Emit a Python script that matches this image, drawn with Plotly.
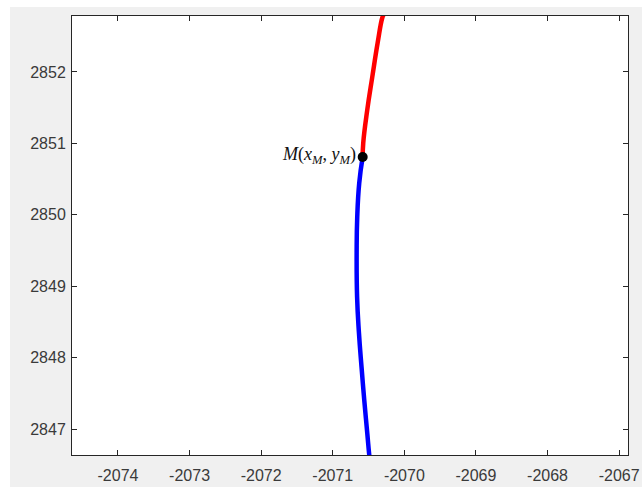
import plotly.graph_objects as go

# Curve above M (red) and below M (blue)
red_x = [-2070.582, -2070.574, -2070.518, -2070.448, -2070.373, -2070.309, -2070.29]
red_y = [2850.810, 2851.006, 2851.468, 2851.930, 2852.406, 2852.756, 2852.80]

blue_x = [-2070.582, -2070.630, -2070.658, -2070.666, -2070.660, -2070.634,
          -2070.598, -2070.560, -2070.518, -2070.490, -2070.485]
blue_y = [2850.810, 2850.445, 2849.969, 2849.507, 2848.849, 2848.345,
          2847.868, 2847.406, 2846.944, 2846.636, 2846.60]

m_x = [-2070.582]
m_y = [2850.810]
m_label = "<i>M</i>(<i>x</i><sub><i>M</i></sub>, <i>y</i><sub><i>M</i></sub>)"

x_ticks = [-2074, -2073, -2072, -2071, -2070, -2069, -2068, -2067]
y_ticks = [2847, 2848, 2849, 2850, 2851, 2852]

fig = go.Figure()
fig.add_trace(go.Scatter(x=blue_x, y=blue_y, mode="lines",
                         line=dict(color="#0000ff", width=4.5, shape="spline", smoothing=1.3),
                         showlegend=False, cliponaxis=True))
fig.add_trace(go.Scatter(x=red_x, y=red_y, mode="lines",
                         line=dict(color="#ff0000", width=4.5, shape="spline", smoothing=1.3),
                         showlegend=False, cliponaxis=True))
fig.add_trace(go.Scatter(x=m_x, y=m_y, mode="markers",
                         marker=dict(color="black", size=10),
                         showlegend=False, cliponaxis=False))

fig.add_annotation(x=m_x[0], y=m_y[0], text=m_label, showarrow=False,
                   xanchor="right", yanchor="middle", xshift=-5, yshift=1,
                   font=dict(family="Liberation Serif", size=18, color="#111111"))

# Figure background: gray with a thin white strip at left/top, white axes area
fig.add_shape(type="rect", xref="paper", yref="paper",
              x0=-0.1115, x1=1.03, y0=-0.08, y1=1.0205,
              fillcolor="#f0f0f0", line=dict(width=0), layer="below")
fig.add_shape(type="rect", xref="paper", yref="paper",
              x0=0, x1=1, y0=0, y1=1,
              fillcolor="white", line=dict(width=0), layer="below")

axis_common = dict(
    showgrid=False, zeroline=False, showline=True, linecolor="#262626",
    linewidth=1, mirror="ticks", ticks="inside", ticklen=5, tickwidth=1,
    tickcolor="#262626", automargin=False,
    tickfont=dict(family="Liberation Sans, Arial", size=16, color="#3a3a3a"),
)

fig.update_xaxes(range=[-2074.642, -2066.876], tickvals=x_ticks,
                 ticktext=[str(v) for v in x_ticks], ticklabelstandoff=6,
                 **axis_common)
fig.update_yaxes(range=[2846.636, 2852.784], tickvals=y_ticks,
                 ticktext=[str(v) for v in y_ticks], ticklabelstandoff=2,
                 **axis_common)

fig.update_layout(
    width=642, height=487,
    margin=dict(l=72, r=14, t=16, b=32, pad=0, autoexpand=False),
    paper_bgcolor="white", plot_bgcolor="white",
)

fig.write_html("out.html")
